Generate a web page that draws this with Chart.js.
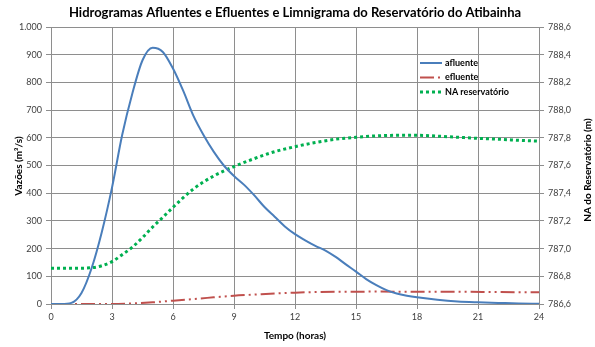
<!DOCTYPE html>
<html>
<head>
<meta charset="utf-8">
<script src="https://cdn.jsdelivr.net/npm/chart.js@4"></script>
<style>
  html, body { margin: 0; padding: 0; background: #fff; }
  #box { width: 595px; height: 347px; }
</style>
</head>
<body>
<div id="box"><canvas id="grafico"></canvas></div>
<script>
// hidrograma afluente (m3/s), meia em meia hora
const tempoAfl = [0, 0.5, 1, 1.5, 2, 2.5, 3, 3.5, 4, 4.5, 5, 5.5, 6, 6.5, 7, 7.5, 8, 8.5, 9, 9.5, 10,
  10.5, 11, 11.5, 12, 12.5, 13, 13.5, 14, 14.5, 15, 15.5, 16, 16.5, 17, 17.5, 18, 19, 20, 21, 22, 23, 24];
const vazaoAfl = [0, 0, 4, 40, 130, 260, 420, 610, 760, 880, 925, 910, 850, 770, 680, 610, 550, 500, 462, 430, 392,
  350, 315, 280, 252, 230, 210, 193, 170, 143, 117, 90, 68, 50, 38, 30, 24, 15, 9, 6, 4, 2, 1];

// hidrograma efluente (m3/s)
const tempoEfl = [0, 1, 2, 3, 4, 5, 6, 7, 8, 9, 10, 11, 12, 13, 14, 15, 16, 18, 20, 22, 24];
const vazaoEfl = [0, 0, 0, 0, 2, 6, 12, 18, 24, 30, 34, 38, 41, 43, 44, 44, 45, 44, 44, 43, 42];

// nivel d'agua do reservatorio (m)
const tempoNA = [0, 1, 2, 2.5, 3, 3.5, 4, 4.5, 5, 5.5, 6, 7, 8, 9, 10, 11, 12, 13, 14, 15, 16, 17, 18, 19, 20, 21, 22, 23, 24];
const cotaNA = [786.858, 786.858, 786.862, 786.876, 786.906, 786.956, 787.010, 787.080, 787.156, 787.226, 787.298,
  787.430, 787.524, 787.592, 787.650, 787.700, 787.736, 787.766, 787.790, 787.804, 787.814, 787.818, 787.818,
  787.812, 787.804, 787.796, 787.790, 787.782, 787.776];

const pares = (xs, ys) => xs.map((x, i) => ({ x: x, y: ys[i] }));

const FONTE = "Lato, 'Open Sans', sans-serif";
const corGrade = "#8e8e8e";

// titulo e titulos dos eixos desenhados a mao (o eixo da direita le de baixo para cima)
const titulos = {
  id: "titulos",
  afterDraw(chart) {
    const c = chart.ctx;
    const a = chart.chartArea;
    c.save();
    c.fillStyle = "#000";
    c.textAlign = "center";
    c.textBaseline = "middle";
    c.font = "bold 13px " + FONTE;
    c.fillText("Hidrogramas Afluentes e Efluentes e Limnigrama do Reservatório do Atibainha", 295, 13);
    c.font = "bold 10px " + FONTE;
    c.fillText("Tempo (horas)", (a.left + a.right) / 2, 336);
    c.save();
    c.translate(19, 166);
    c.rotate(-Math.PI / 2);
    c.fillText("Vazões (m³/s)", 0, 0);
    c.restore();
    c.save();
    c.translate(588, 170);
    c.rotate(-Math.PI / 2);
    c.fillText("NA do Reservatório (m)", 0, 0);
    c.restore();
    c.restore();
  }
};

// legenda dentro da area do grafico
const legenda = {
  id: "legenda",
  afterDraw(chart) {
    const c = chart.ctx;
    c.save();
    c.font = "bold 9px " + FONTE;
    c.textBaseline = "middle";
    chart.data.datasets.forEach((ds, i) => {
      const y = 63 + i * 14.5;
      c.strokeStyle = ds.borderColor;
      c.lineWidth = ds.borderWidth;
      c.setLineDash(ds.borderDash || []);
      c.beginPath();
      c.moveTo(420, y);
      c.lineTo(442, y);
      c.stroke();
      c.setLineDash([]);
      c.fillStyle = "#000";
      c.fillText(ds.label, 445, y);
    });
    c.restore();
  }
};

new Chart(document.getElementById("grafico"), {
  type: "line",
  data: {
    datasets: [
      {
        label: "afluente",
        data: pares(tempoAfl, vazaoAfl),
        borderColor: "#4a7ebb",
        borderWidth: 2,
        yAxisID: "y"
      },
      {
        label: "efluente",
        data: pares(tempoEfl, vazaoEfl),
        borderColor: "#c0504d",
        borderWidth: 2,
        borderDash: [14, 4, 2, 4, 2, 4],
        yAxisID: "y"
      },
      {
        label: "NA reservatório",
        data: pares(tempoNA, cotaNA),
        borderColor: "#00b050",
        borderWidth: 3,
        borderDash: [3, 3],
        borderCapStyle: "butt",
        yAxisID: "y1"
      }
    ]
  },
  options: {
    responsive: true,
    maintainAspectRatio: false,
    animation: false,
    cubicInterpolationMode: "monotone",
    elements: { point: { radius: 0 } },
    layout: { padding: { top: 27, left: 0, right: 0, bottom: 0 } },
    plugins: {
      legend: { display: false },
      title: { display: false },
      tooltip: { enabled: false }
    },
    scales: {
      x: {
        type: "linear",
        min: 0,
        max: 24,
        afterFit: s => { s.height = 43; },
        border: { color: corGrade },
        grid: { color: corGrade, tickLength: 5 },
        ticks: { stepSize: 3, padding: 3, color: "#404040", font: { family: FONTE, size: 9 } }
      },
      y: {
        position: "left",
        min: 0,
        max: 1000,
        afterFit: s => { s.width = 51; },
        border: { color: corGrade },
        grid: { color: corGrade, tickLength: 5 },
        ticks: {
          stepSize: 100,
          padding: 4,
          color: "#404040",
          font: { family: FONTE, size: 9 },
          callback: v => v.toLocaleString("pt-BR")
        }
      },
      y1: {
        position: "right",
        min: 786.6,
        max: 788.6,
        afterFit: s => { s.width = 56; },
        border: { color: corGrade },
        grid: { drawOnChartArea: false, color: corGrade, tickLength: 5 },
        ticks: {
          stepSize: 0.2,
          padding: 4,
          color: "#404040",
          font: { family: FONTE, size: 9 },
          callback: v => v.toFixed(1).replace(".", ",")
        }
      }
    }
  },
  plugins: [titulos, legenda]
});
</script>
</body>
</html>
